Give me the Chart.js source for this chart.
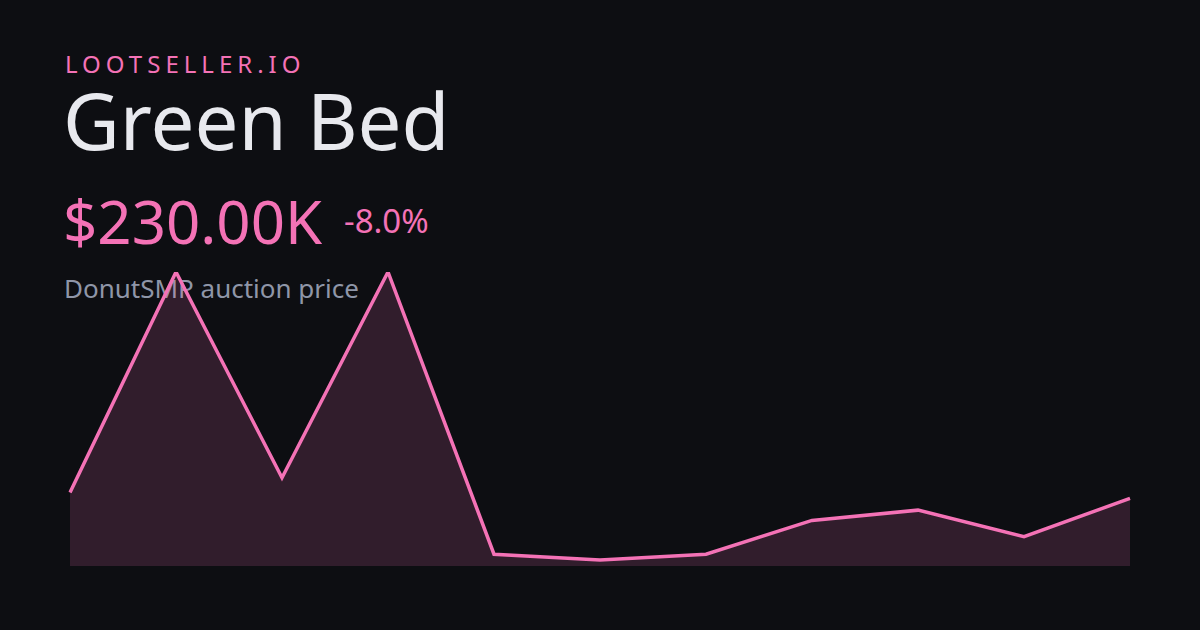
<!DOCTYPE html>
<html>
<head>
<meta charset="utf-8">
<script src="https://cdn.jsdelivr.net/npm/chart.js@4"></script>
<style>
  html, body { margin:0; padding:0; width:1200px; height:630px; background:#0d0e12; overflow:hidden; font-family:"Noto Sans", sans-serif; }
  .t { position:absolute; white-space:nowrap; line-height:1; }
  #brand { left:65px; top:52px; font-size:24px; letter-spacing:5px; color:#f472b6; }
  #title { left:63px; top:81px; font-size:78px; color:#e8e9ee; }
  #price { left:63px; top:191px; font-size:60px; color:#f472b6; }
  #chg { left:344px; top:204px; font-size:33px; color:#f472b6; }
  #sub { left:64px; top:275px; font-size:26px; color:#8f96a8; }
  #wrap { position:absolute; left:0; top:0; width:1200px; height:630px; z-index:2; }
</style>
</head>
<body>
<div class="t" id="brand">LOOTSELLER.IO</div>
<div class="t" id="title">Green Bed</div>
<div class="t" id="price">$230.00K</div>
<div class="t" id="chg">-8.0%</div>
<div class="t" id="sub">DonutSMP auction price</div>
<div id="wrap"><canvas id="c" width="1200" height="630"></canvas></div>
<script>
const labels = ["1","2","3","4","5","6","7","8","9","10","11"];
const prices = [250, 1000, 300, 1000, 40, 20, 40, 155, 190, 100, 230];

new Chart(document.getElementById('c'), {
  type: 'line',
  data: {
    labels: labels,
    datasets: [{
      data: prices,
      borderColor: '#f472b6',
      borderWidth: 3.5,
      backgroundColor: 'rgba(244,114,182,0.16)',
      fill: 'origin',
      tension: 0,
      pointRadius: 0
    }]
  },
  options: {
    responsive: false,
    animation: false,
    layout: { padding: { left: 70, right: 70, top: 272, bottom: 64 } },
    plugins: { legend: { display: false }, tooltip: { enabled: false } },
    scales: {
      x: { display: false, offset: false },
      y: { display: false, min: 0, max: 1000 }
    }
  }
});
</script>
</body>
</html>
